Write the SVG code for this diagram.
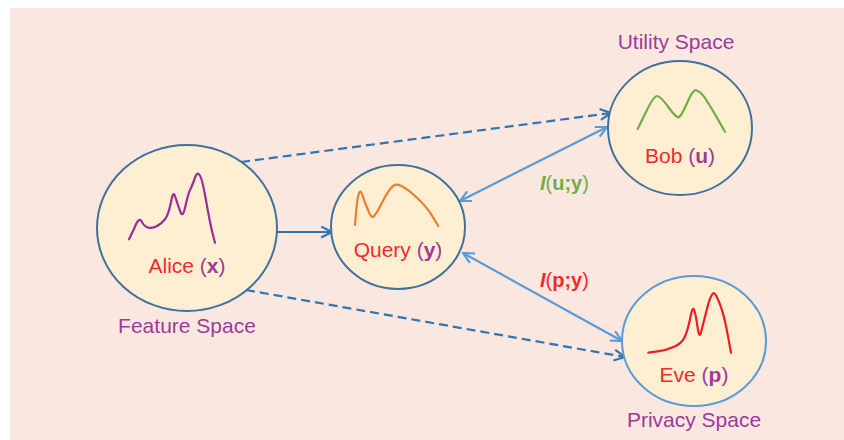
<svg xmlns="http://www.w3.org/2000/svg" width="844" height="440" viewBox="0 0 844 440">
<style>
.node{fill:#FEEFD2;stroke:#41719C;stroke-width:2}
.node2{fill:#FEEFD2;stroke:#5B9BD5;stroke-width:2}
.lbl{font-family:"Liberation Sans",Arial,sans-serif;font-size:21px;fill:#EE2B2B;text-anchor:middle}
.var{fill:#9C3A9C;font-weight:bold}
.par{fill:#9C3A9C}
.space{font-family:"Liberation Sans",Arial,sans-serif;font-size:21px;fill:#9C3A9C;text-anchor:middle}
.mi{font-family:"Liberation Sans",Arial,sans-serif;font-size:20px}
.curve{fill:none;stroke-width:2.2;stroke-linecap:round;stroke-linejoin:round}
.dark{fill:none;stroke:#2E75B6;stroke-width:2.2}
.light{fill:none;stroke:#5B9BD5;stroke-width:2.2}
.dash{stroke-dasharray:9 5}
</style>
<defs>
<marker id="ad" viewBox="0 0 12 12" refX="11" refY="6" markerWidth="13" markerHeight="13" markerUnits="userSpaceOnUse" orient="auto-start-reverse">
<path d="M1,1 L11,6 L1,11" fill="none" stroke="#2E75B6" stroke-width="2"/>
</marker>
<marker id="al" viewBox="0 0 12 12" refX="11" refY="6" markerWidth="13" markerHeight="13" markerUnits="userSpaceOnUse" orient="auto-start-reverse">
<path d="M1,1 L11,6 L1,11" fill="none" stroke="#5B9BD5" stroke-width="2"/>
</marker>
</defs>
<rect x="10" y="8" width="834" height="432" fill="#FAE7DF"/>
<g id="connectors">
<line class="dark" x1="276" y1="232" x2="332" y2="232" marker-end="url(#ad)"/>
<line class="dark dash" x1="241" y1="162" x2="611" y2="113" marker-end="url(#ad)"/>
<line class="dark dash" x1="246" y1="290" x2="625" y2="357" marker-end="url(#ad)"/>
<line class="light" x1="460" y1="201" x2="607" y2="127" marker-start="url(#al)" marker-end="url(#al)"/>
<line class="light" x1="463" y1="253" x2="622" y2="341" marker-start="url(#al)" marker-end="url(#al)"/>
</g>
<g id="alice">
<ellipse class="node" cx="187" cy="228" rx="90" ry="83"/>
<path class="curve" stroke="#9B2D9B" d="M129,239.3 L134.2,228.5 Q139.3,215 142.2,222.5 Q145,227.3 149.2,227.8 Q153.3,228.3 157.5,225.8 Q161.7,223.3 165,219.2 Q168.3,215 170.8,203 Q173.3,189 175.3,197 Q177.3,203.3 180,210.8 Q182.7,219.5 185.5,205.8 Q188.3,193.3 190,190 Q191.7,186.7 194.2,180 Q196.7,171 199.2,174.7 Q201.7,176 205.9,199.7 Q210,223.3 212.5,233 L215,242.7"/>
<text class="lbl" x="187" y="273">Alice <tspan class="par">(</tspan><tspan class="var">x</tspan><tspan class="par">)</tspan></text>
<text class="space" x="187" y="333">Feature Space</text>
</g>
<g id="query">
<ellipse class="node" cx="398" cy="227" rx="67" ry="62"/>
<path class="curve" stroke="#ED7D31" d="M355,225 L356.2,210.9 Q357.3,196.7 359,193.4 Q360.7,188.5 362.9,196.7 Q365,203.3 368.4,210.8 Q371.7,219.5 374.2,215.8 Q376.7,213.3 381.7,203.3 Q386.7,193.3 390.9,188.3 Q395,182.5 400.9,185.8 Q406.7,188.3 416.7,197.5 Q426.7,206.7 432.5,216.4 L438.3,226"/>
<text class="lbl" x="398" y="257">Query <tspan class="par">(</tspan><tspan class="var">y</tspan><tspan class="par">)</tspan></text>
</g>
<g id="bob">
<ellipse class="node" cx="680" cy="128" rx="72" ry="67"/>
<path class="curve" stroke="#70AD47" d="M637.7,129 L645.5,112.9 Q653.3,96.7 656.7,96 Q660,95.5 668.7,107.5 Q677.3,119.5 679.5,116.7 Q681.7,115 687.5,102.2 Q693.3,88.5 696.7,90.5 Q700,91.7 703.4,95.9 Q706.7,100 715.9,115.9 L725,131.7"/>
<text class="lbl" x="680" y="163">Bob <tspan class="par">(</tspan><tspan class="var">u</tspan><tspan class="par">)</tspan></text>
<text class="space" x="676" y="49">Utility Space</text>
</g>
<g id="eve">
<ellipse class="node2" cx="694" cy="341" rx="72" ry="65"/>
<path class="curve" stroke="#EE1C25" d="M648.3,352.7 L657.5,351.4 Q666.7,350 674.2,346.7 Q681.7,343.3 684.5,337.5 Q687.3,331.7 689.8,320 Q692.3,307 693.7,309.2 Q695,310 697.2,324.7 Q699.3,341 701.3,331.3 Q703.3,323.3 706.7,310 Q710,296.7 712.2,294.5 Q714.3,291 716.8,297 Q719.3,301.7 722.2,310.9 Q725,320 728,336.4 L731,352.7"/>
<text class="lbl" x="694" y="382">Eve <tspan class="par">(</tspan><tspan class="var">p</tspan><tspan class="par">)</tspan></text>
<text class="space" x="694" y="427">Privacy Space</text>
</g>
<g id="labels">
<text class="mi" x="540" y="190" fill="#70AD47"><tspan font-style="italic" font-weight="bold">I</tspan>(<tspan font-weight="bold">u;y</tspan>)</text>
<text class="mi" x="540" y="287" fill="#EE2B2B"><tspan font-style="italic" font-weight="bold">I</tspan>(<tspan font-weight="bold">p;y</tspan>)</text>
</g>
</svg>
